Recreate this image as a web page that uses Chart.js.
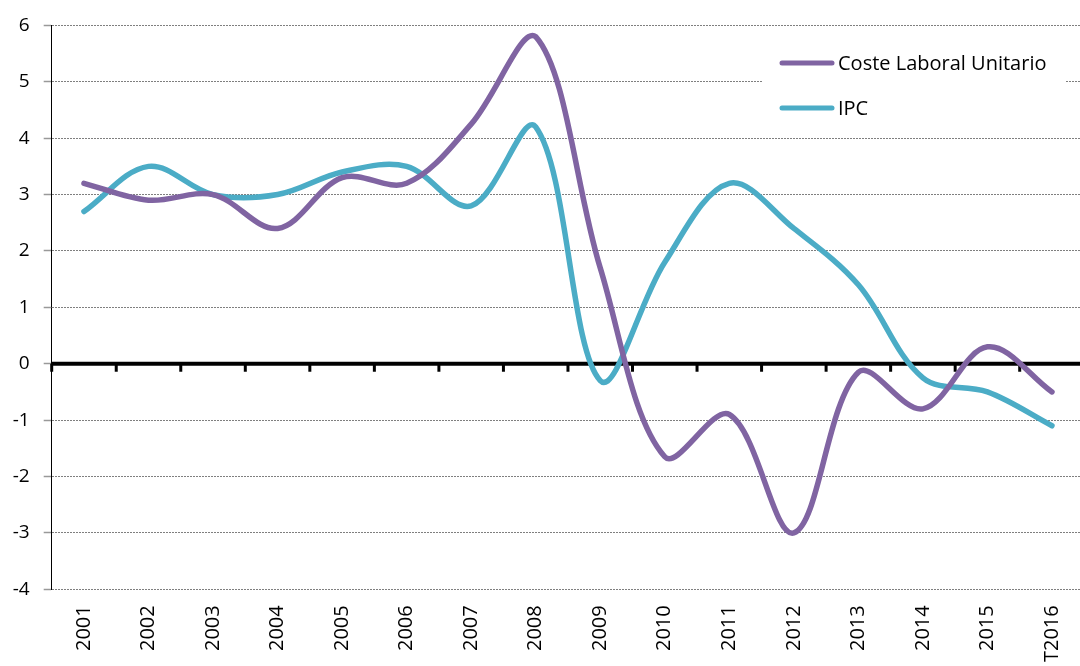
<!DOCTYPE html>
<html>
<head>
<meta charset="utf-8">
<script src="https://cdn.jsdelivr.net/npm/chart.js@4/dist/chart.umd.min.js"></script>
<style>
  html, body { margin: 0; padding: 0; background: #fff; overflow: hidden; }
  #wrap { width: 1092px; height: 666px; position: relative; }
</style>
</head>
<body>
<div id="wrap"><canvas id="myChart"></canvas></div>
<script>
const years = ["2001", "2002", "2003", "2004", "2005", "2006", "2007", "2008",
  "2009", "2010", "2011", "2012", "2013", "2014", "2015", "T2016"];
const costeLaboral = [3.2, 2.9, 3.0, 2.4, 3.3, 3.2, 4.25, 5.8, 1.7, -1.65, -0.9, -3.0, -0.15, -0.8, 0.3, -0.5];
const ipc = [2.7, 3.5, 3.0, 3.0, 3.4, 3.5, 2.8, 4.2, -0.3, 1.8, 3.2, 2.4, 1.4, -0.25, -0.5, -1.1];
const yTicks = [-4, -3, -2, -1, 0, 1, 2, 3, 4, 5, 6];

const purple = '#8064A2';
const cyan = '#4BACC6';
const font = "'Open Sans', 'Noto Sans', sans-serif";

// thick black zero line with small ticks between the categories
const zeroAxis = {
  id: 'zeroAxis',
  beforeDatasetsDraw(chart) {
    const {ctx, chartArea, scales} = chart;
    const y0 = scales.y.getPixelForValue(0);
    ctx.save();
    ctx.strokeStyle = '#000';
    ctx.lineWidth = 4;
    ctx.beginPath();
    ctx.moveTo(chartArea.left, y0);
    ctx.lineTo(chartArea.right, y0);
    ctx.stroke();
    const step = (chartArea.right - chartArea.left) / years.length;
    ctx.lineWidth = 3;
    for (let i = 0; i <= years.length; i++) {
      const x = chartArea.left + i * step;
      ctx.beginPath();
      ctx.moveTo(x, y0);
      ctx.lineTo(x, y0 + 8);
      ctx.stroke();
    }
    ctx.restore();
  }
};

// legend box inside the plot, top right
const insideLegend = {
  id: 'insideLegend',
  afterDraw(chart) {
    const {ctx} = chart;
    ctx.save();
    ctx.fillStyle = '#fff';
    ctx.fillRect(762, 40, 304, 88);
    ctx.lineCap = 'round';
    ctx.lineWidth = 5;
    ctx.font = '20px ' + font;
    ctx.textBaseline = 'middle';
    ctx.textAlign = 'left';
    chart.data.datasets.forEach((ds, i) => {
      const y = 63 + i * 45;
      ctx.strokeStyle = ds.borderColor;
      ctx.beginPath();
      ctx.moveTo(782, y);
      ctx.lineTo(832, y);
      ctx.stroke();
      ctx.fillStyle = '#000';
      ctx.fillText(ds.label, 838, y + 1);
    });
    ctx.restore();
  }
};

const ctx = document.getElementById('myChart').getContext('2d');
const myChart = new Chart(ctx, {
  type: 'line',
  data: {
    labels: years,
    datasets: [{
      label: 'Coste Laboral Unitario',
      data: costeLaboral,
      borderColor: purple,
      borderWidth: 5.5,
      pointRadius: 0,
      tension: 0.35,
      borderCapStyle: 'round',
      fill: false
    }, {
      label: 'IPC',
      data: ipc,
      borderColor: cyan,
      borderWidth: 5.5,
      pointRadius: 0,
      tension: 0.35,
      borderCapStyle: 'round',
      fill: false
    }]
  },
  options: {
    responsive: true,
    maintainAspectRatio: false,
    animation: false,
    layout: { padding: { top: 24, right: 1, left: 0, bottom: 0 } },
    scales: {
      x: {
        offset: true,
        grid: { display: false, drawTicks: false },
        border: { display: false },
        ticks: {
          color: '#000',
          minRotation: 90,
          maxRotation: 90,
          padding: 16,
          autoSkip: false,
          font: { family: font, size: 20 }
        },
        afterFit(scale) { scale.height = 76.7; }
      },
      y: {
        min: -4,
        max: 6,
        afterBuildTicks(scale) { scale.ticks = yTicks.map(v => ({value: v})); },
        grid: {
          color: ctx => ctx.tick && ctx.tick.value === 0 ? 'rgba(0,0,0,0)' : '#7f7f7f',
          lineWidth: 1,
          tickLength: 8,
          tickColor: '#999',
          tickWidth: 1.5
        },
        border: { display: true, color: '#000', width: 1, dash: [2, 1] },
        ticks: {
          color: '#000',
          padding: 14,
          font: { family: font, size: 19 }
        },
        afterFit(scale) { scale.width = 51.7; }
      }
    },
    plugins: {
      legend: { display: false },
      tooltip: { enabled: false }
    }
  },
  plugins: [zeroAxis, insideLegend]
});
</script>
</body>
</html>
